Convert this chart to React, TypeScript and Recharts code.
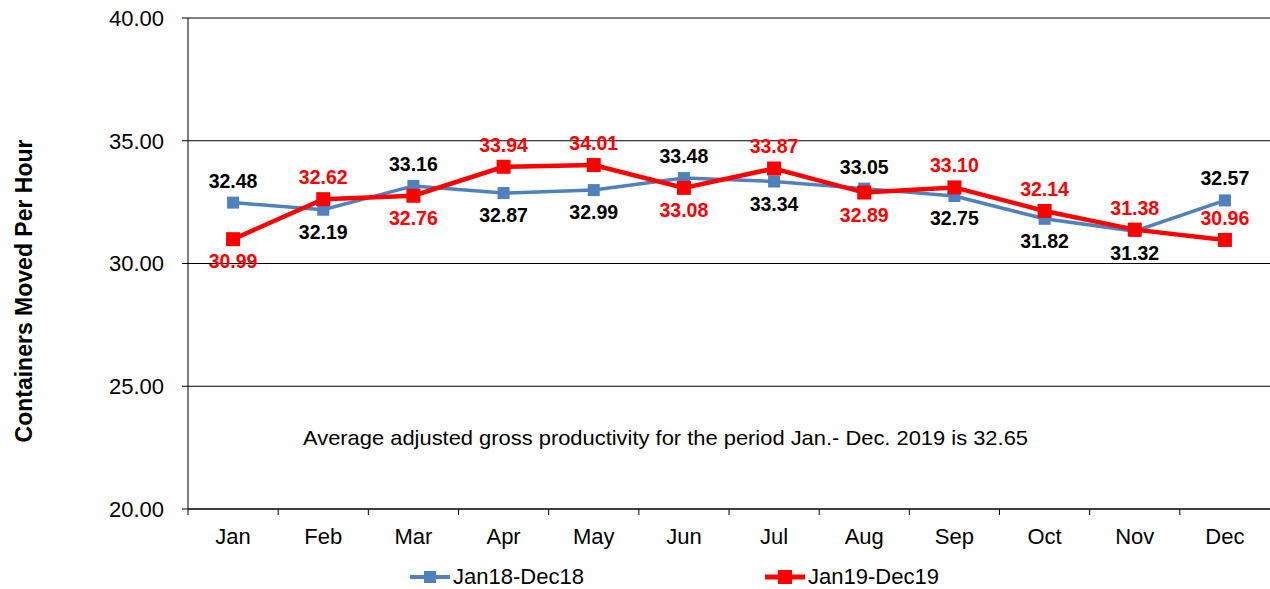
import React from 'react';
import { LineChart, Line, XAxis, YAxis, CartesianGrid, Legend } from 'recharts';

const months = ['Jan', 'Feb', 'Mar', 'Apr', 'May', 'Jun', 'Jul', 'Aug', 'Sep', 'Oct', 'Nov', 'Dec'];
const y2018 = [32.48, 32.19, 33.16, 32.87, 32.99, 33.48, 33.34, 33.05, 32.75, 31.82, 31.32, 32.57];
const y2019 = [30.99, 32.62, 32.76, 33.94, 34.01, 33.08, 33.87, 32.89, 33.1, 32.14, 31.38, 30.96];
// which side of the marker each value label sits on
const side2018 = ['up', 'down', 'up', 'down', 'down', 'up', 'down', 'up', 'down', 'down', 'down', 'up'];
const side2019 = ['down', 'up', 'down', 'up', 'up', 'down', 'up', 'down', 'up', 'up', 'up', 'up'];
const yTicks = [20, 25, 30, 35, 40];

const BLUE = '#4F81BD';
const RED = '#FF0000';
const FONT = '"Liberation Sans", Arial, sans-serif';
const BAND = 1082 / 12;

const data = months.map((m, i) => ({ month: m, a: y2018[i], b: y2019[i] }));

const Square = (size: number, color: string) => (props: any) => {
  const { cx, cy, index } = props;
  if (cx == null || cy == null) return <g key={index} />;
  return <rect key={index} x={cx - size / 2} y={cy - size / 2} width={size} height={size} fill={color} />;
};

const valueLabel = (sides: string[], color: string) => (props: any) => {
  const { x, y, value, index } = props;
  const up = sides[index] === 'up';
  return (
    <text
      key={index}
      x={x}
      y={up ? y - 22 : y + 22}
      textAnchor="middle"
      dominantBaseline="central"
      fill={color}
      fontFamily={FONT}
      fontWeight="bold"
      fontSize={19.5}
    >
      {Number(value).toFixed(2)}
    </text>
  );
};

const MonthTick = (props: any) => {
  const { x, y, payload } = props;
  const half = BAND / 2;
  return (
    <g>
      <line x1={x - half} y1={y - 8} x2={x - half} y2={y - 2} stroke="#000" />
      <text x={x} y={y + 27} textAnchor="middle" fill="#000" fontFamily={FONT} fontSize={22}>
        {payload.value}
      </text>
    </g>
  );
};

const LegendContent = () => {
  const item = (color: string, size: number, w: number, text: string, left: number) => (
    <div style={{ position: 'absolute', left, top: 5, display: 'flex', alignItems: 'center' }}>
      <svg width={40} height={20}>
        <line x1={0} y1={10} x2={40} y2={10} stroke={color} strokeWidth={w} />
        <rect x={20 - size / 2} y={10 - size / 2} width={size} height={size} fill={color} />
      </svg>
      <span style={{ fontFamily: FONT, fontSize: 22, color: '#000', marginLeft: 3 }}>{text}</span>
    </div>
  );
  return (
    <div style={{ position: 'relative', width: 1270, height: 30 }}>
      {item(BLUE, 12, 4, 'Jan18-Dec18', 410)}
      {item(RED, 14, 5, 'Jan19-Dec19', 765)}
    </div>
  );
};

export default function App() {
  return (
    <div style={{ position: 'absolute', left: 0, top: 0, width: 1270, height: 589, background: '#fff' }}>
      <LineChart width={1270} height={589} data={data} margin={{ top: 18, right: 0, left: 0, bottom: 4 }}>
        <CartesianGrid vertical={false} stroke="#000" strokeWidth={1} />
        <XAxis
          dataKey="month"
          height={50}
          padding={{ left: BAND / 2, right: BAND / 2 }}
          axisLine={{ stroke: '#000' }}
          tickLine={false}
          tick={<MonthTick />}
          interval={0}
        />
        <YAxis
          domain={[20, 40]}
          ticks={yTicks}
          width={188}
          axisLine={{ stroke: '#000' }}
          tickLine={{ stroke: '#000' }}
          tickSize={6}
          tickMargin={18}
          tickFormatter={(v) => Number(v).toFixed(2)}
          tick={{ fill: '#000', fontFamily: FONT, fontSize: 22 }}
        />
        <Legend verticalAlign="bottom" height={26} content={<LegendContent />} wrapperStyle={{ left: 0 }} />
        <Line
          dataKey="a"
          stroke={BLUE}
          strokeWidth={3.5}
          dot={Square(12, BLUE)}
          label={valueLabel(side2018, '#000')}
          isAnimationActive={false}
        />
        <Line
          dataKey="b"
          stroke={RED}
          strokeWidth={4.5}
          dot={Square(14, RED)}
          label={valueLabel(side2019, RED)}
          isAnimationActive={false}
        />
      </LineChart>
      <svg style={{ position: 'absolute', left: 0, top: 0, pointerEvents: 'none' }} width={1270} height={589}>
        <text
          x={0}
          y={0}
          transform="translate(32,291) rotate(-90)"
          textAnchor="middle"
          fontFamily={FONT}
          fontWeight="bold"
          fontSize={23}
          fill="#000"
        >
          Containers Moved Per Hour
        </text>
        <text x={303} y={445} textLength={725} lengthAdjust="spacingAndGlyphs" fontFamily={FONT} fontSize={21} fill="#000">
          Average adjusted gross productivity for the period Jan.- Dec. 2019 is 32.65
        </text>
      </svg>
    </div>
  );
}
